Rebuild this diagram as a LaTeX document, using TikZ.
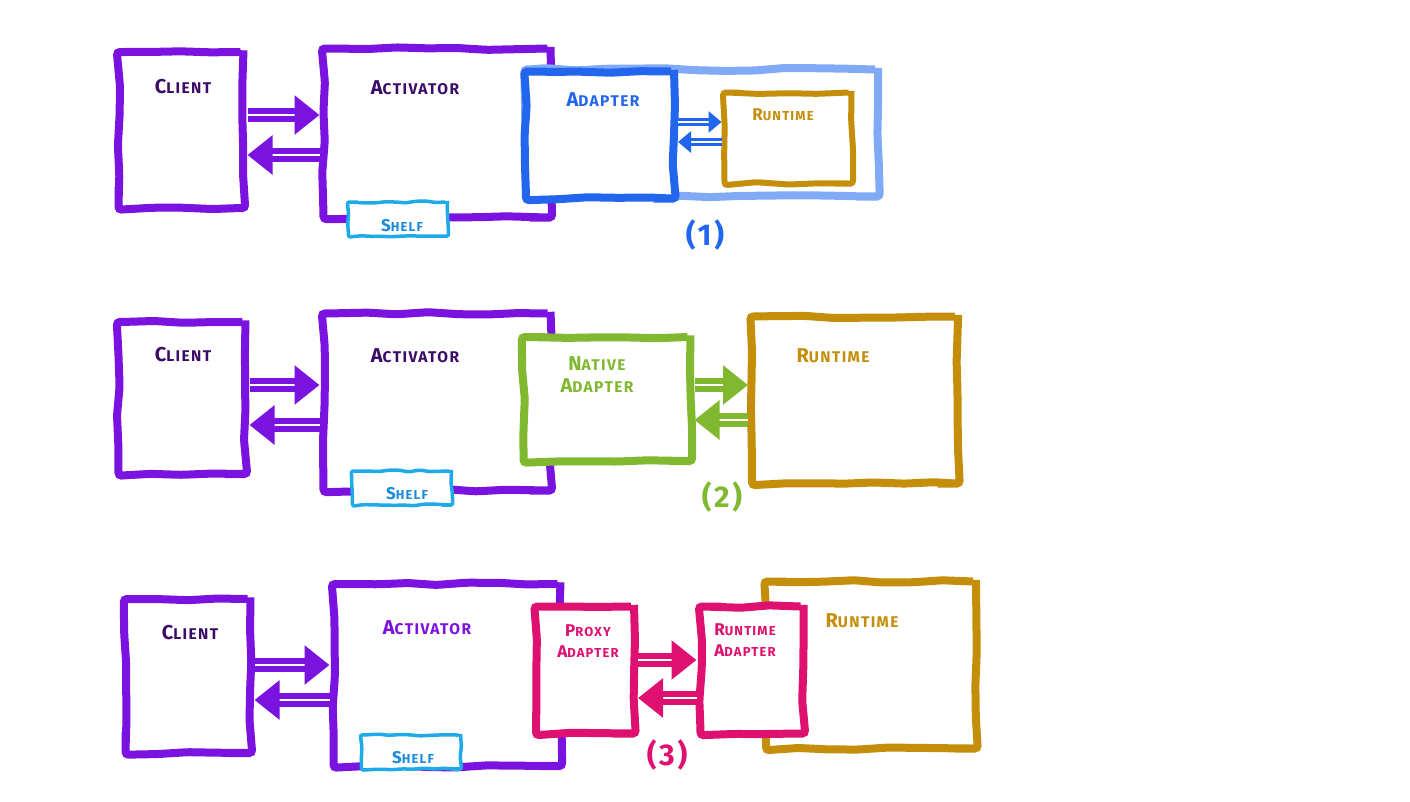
\documentclass[tikz,border=0pt]{standalone}
\usepackage{fontspec}
\setmainfont{Fira Sans}
\newfontfamily\handfont[LetterSpace=9]{Fira Sans}
\usepackage{tikz}
\usetikzlibrary{arrows.meta,decorations.pathmorphing,positioning}
\definecolor{vio}{RGB}{122,18,224}
\definecolor{ink}{RGB}{58,12,104}
\definecolor{shelfc}{RGB}{30,170,232}
\definecolor{shelft}{RGB}{26,140,216}
\definecolor{blu}{RGB}{34,102,238}
\definecolor{lblu}{RGB}{128,170,245}
\definecolor{gold}{RGB}{196,142,10}
\definecolor{grn}{RGB}{128,184,48}
\definecolor{pnk}{RGB}{222,16,112}
\tikzstyle{box} = [rectangle, draw, fill=white, line width=8pt, rounded corners=3pt, decorate, decoration={random steps, segment length=30pt, amplitude=1.5pt}]
\tikzstyle{shelf} = [rectangle, draw=shelfc, fill=white, line width=3.5pt, rounded corners=2pt, minimum width=99pt, minimum height=34pt, decorate, decoration={random steps, segment length=10pt, amplitude=1pt}]
\tikzstyle{title} = [font=\handfont\bfseries\fontsize{20}{22}\selectfont, inner sep=0pt, align=center]
\tikzstyle{small} = [font=\handfont\bfseries\fontsize{17}{21}\selectfont, inner sep=0pt, align=center]
\tikzstyle{tag} = [font=\handfont\bfseries\fontsize{30}{32}\selectfont, inner sep=0pt]
\tikzstyle{swap} = [draw, line width=6pt, double=white, double distance=2.5pt, -{Triangle[length=25pt,width=38pt]}]
\tikzstyle{swapsm} = [draw, line width=3.5pt, double=white, double distance=1.5pt, -{Triangle[length=13pt,width=21pt]}]
\newcommand{\hcap}[2]{#1{\fontsize{15.5}{17}\selectfont #2}}
\newcommand{\scap}[2]{#1{\fontsize{13}{15}\selectfont #2}}

\begin{document}
\begin{tikzpicture}[x=1pt, y=-1pt]
    \pgfmathsetseed{7}
    \useasboundingbox (0,0) rectangle (1410,801);

    % (1) adapter in front of the runtime
    \node [box, draw=vio, minimum width=125pt, minimum height=156pt] (client1) at (181,130) {};
    \node [box, draw=vio, minimum width=227pt, minimum height=169pt] (act1) at (437,133) {};
    \node [shelf] (shelf1) at (398,219) {};
    \node [box, draw=lblu, minimum width=352pt, minimum height=127pt] (cont1) at (702,133) {};
    \node [box, draw=blu, minimum width=148pt, minimum height=127pt] (ada1) at (600,135) {};
    \node [box, draw=gold, line width=6pt, minimum width=127pt, minimum height=91pt] (rt1) at (788,138) {};
    \node [title, text=ink] at (183,87) {\hcap{C}{LIENT}};
    \node [title, text=ink] at (415,88) {\hcap{A}{CTIVATOR}};
    \node [small, text=shelft] at (402,226) {\scap{S}{HELF}};
    \node [title, text=blu] at (603,100) {\hcap{A}{DAPTER}};
    \node [small, text=gold] at (783,115) {\scap{R}{UNTIME}};
    \node [tag, text=blu] (n1) at (705,235) {(1)};
    \path [swap, draw=vio] ([yshift=15pt]client1.east) -- ([yshift=18pt]act1.west);
    \path [swap, draw=vio] ([yshift=-22pt]act1.west) -- ([yshift=-25pt]client1.east);
    \path [swapsm, draw=blu] ([yshift=13pt]ada1.east) -- ([yshift=16pt]rt1.west);
    \path [swapsm, draw=blu] ([yshift=-4pt]rt1.west) -- ([yshift=-7pt]ada1.east);

    % (2) native adapter
    \node [box, draw=vio, minimum width=127pt, minimum height=152pt] (client2) at (182,398) {};
    \node [box, draw=vio, minimum width=227pt, minimum height=177pt] (act2) at (437,402) {};
    \node [shelf] (shelf2) at (402,488) {};
    \node [box, draw=grn, minimum width=167pt, minimum height=124pt] (nat2) at (607,399) {};
    \node [box, draw=gold, minimum width=206pt, minimum height=167pt] (rt2) at (855,400) {};
    \node [title, text=ink] at (183,355) {\hcap{C}{LIENT}};
    \node [title, text=ink] at (415,356) {\hcap{A}{CTIVATOR}};
    \node [small, text=shelft] at (407,494) {\scap{S}{HELF}};
    \node [title, text=grn] at (597,375) {\hcap{N}{ATIVE}\\\hcap{A}{DAPTER}};
    \node [title, text=gold] at (833,356) {\hcap{R}{UNTIME}};
    \node [tag, text=grn] (n2) at (722,497) {(2)};
    \path [swap, draw=vio] ([yshift=13pt]client2.east) -- ([yshift=17pt]act2.west);
    \path [swap, draw=vio] ([yshift=-23pt]act2.west) -- ([yshift=-27pt]client2.east);
    \path [swap, draw=grn] ([yshift=14pt]nat2.east) -- ([yshift=15pt]rt2.west);
    \path [swap, draw=grn] ([yshift=-20pt]rt2.west) -- ([yshift=-21pt]nat2.east);

    % (3) proxy adapter + runtime adapter
    \node [box, draw=vio, minimum width=125pt, minimum height=154pt] (client3) at (188,676) {};
    \node [box, draw=vio, minimum width=227pt, minimum height=182pt] (act3) at (447,675) {};
    \node [shelf] (shelf3) at (411,752) {};
    \node [box, draw=pnk, minimum width=98pt, minimum height=127pt] (proxy3) at (585,670) {};
    \node [box, draw=gold, minimum width=210pt, minimum height=167pt] (rt3) at (871,665) {};
    \node [box, draw=pnk, minimum width=103pt, minimum height=127pt] (radp3) at (752,670) {};
    \node [title, text=ink] at (190,633) {\hcap{C}{LIENT}};
    \node [title, text=vio] at (427,628) {\hcap{A}{CTIVATOR}};
    \node [small, text=shelft] at (413,758) {\scap{S}{HELF}};
    \node [small, text=pnk] at (588,641) {\scap{P}{ROXY}\\\scap{A}{DAPTER}};
    \node [small, text=pnk] at (745,640) {\scap{R}{UNTIME}\\\scap{A}{DAPTER}};
    \node [title, text=gold] at (862,621) {\hcap{R}{UNTIME}};
    \node [tag, text=pnk] (n3) at (667,755) {(3)};
    \path [swap, draw=vio] ([yshift=11pt]client3.east) -- ([yshift=10pt]act3.west);
    \path [swap, draw=vio] ([yshift=-25pt]act3.west) -- ([yshift=-24pt]client3.east);
    \path [swap, draw=pnk] ([yshift=10pt]proxy3.east) -- ([yshift=10pt]radp3.west);
    \path [swap, draw=pnk] ([yshift=-28pt]radp3.west) -- ([yshift=-28pt]proxy3.east);
\end{tikzpicture}
\end{document}
